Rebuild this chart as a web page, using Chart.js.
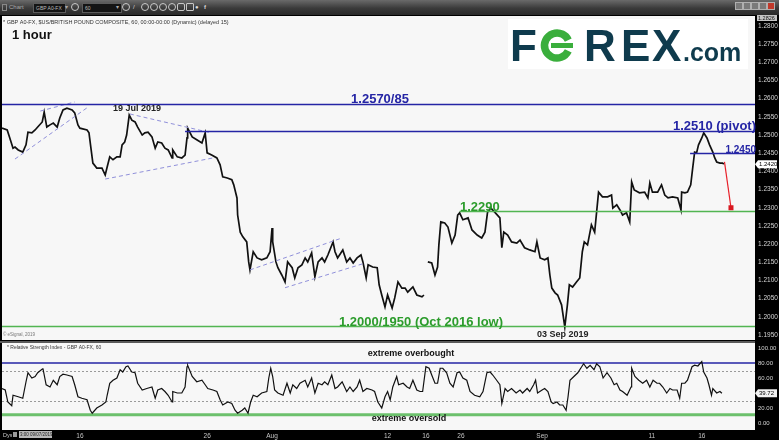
<!DOCTYPE html>
<html>
<head>
<meta charset="utf-8">
<script src="https://cdn.jsdelivr.net/npm/chart.js@4.4.1/dist/chart.umd.min.js"></script>
<style>
  body { margin: 0; width: 779px; height: 440px; background: #2a2a2a; overflow: hidden; font-family: "Liberation Sans", Arial, sans-serif; }
  #toolbar { position: absolute; left: 0; top: 0; width: 779px; height: 15px; background: linear-gradient(#6a6a6a, #3a3a3a 55%, #2a2a2a); }
  .tt { position: absolute; top: 3px; font-size: 6px; line-height: 9px; color: #a8a8a8; white-space: nowrap; }
  .fld { position: absolute; top: 3px; height: 8px; background: #141414; border: 1px solid #5c5c5c; color: #bbb; font-size: 5px; line-height: 8px; padding-left: 2px; white-space: nowrap; overflow: hidden; }
  .circ { position: absolute; top: 3px; width: 6px; height: 6px; border: 1px solid #c8c8c8; border-radius: 50%; }
  .btn { position: absolute; top: 2px; width: 6px; height: 6px; background: #7a7a7a; border: 1px solid #b0b0b0; }
  canvas { position: absolute; left: 0; }
  #price { top: 15px; }
  #rsi { top: 341px; }
  .low { position: absolute; z-index: 2; white-space: nowrap; overflow: hidden; }
</style>
</head>
<body>
<div id="toolbar">
  <div class="btn" style="left:2px;top:4px;width:3px;height:5px;background:none;border-color:#888"></div>
  <span class="tt" style="left:9px">Chart</span>
  <div class="fld" style="left:33px;width:29px">GBP A0-FX</div>
  <span class="tt" style="left:65px">&#9662;</span>
  <div class="circ" style="left:71px"></div>
  <div class="fld" style="left:82px;width:36px">60</div>
  <span class="tt" style="left:116px">&#9662;</span>
  <div class="circ" style="left:122px"></div>
  <span class="tt" style="left:133px;color:#ddd">/</span>
  <div class="circ" style="left:141px"></div>
  <div class="circ" style="left:150px"></div>
  <div class="circ" style="left:159px"></div>
  <div class="circ" style="left:168px"></div>
  <div class="circ" style="left:177px;border-radius:2px"></div>
  <div class="circ" style="left:186px;border-radius:1px"></div>
  <span class="tt" style="left:195px;color:#ddd">&#9679;</span>
  <span class="tt" style="left:204px;color:#ddd;font-weight:bold">f</span>
  <div class="btn" style="left:735px"></div>
  <div class="btn" style="left:743px"></div>
  <div class="btn" style="left:751px"></div>
  <div class="btn" style="left:759px"></div>
  <div class="btn" style="left:767px;background:#c0392b"></div>
</div>

<canvas id="price" width="779" height="326"></canvas>
<canvas id="rsi" width="779" height="99"></canvas>

<span class="low" style="left:3px;top:432px;font-size:5.5px;line-height:6px;color:#ccc">Dys</span>
<div class="low" style="left:13px;top:432px;width:4px;height:5px;background:#9a9a9a"></div>
<div class="low" style="left:19px;top:431px;width:32px;height:7px;background:#b8b8b8;font-size:4.5px;line-height:7px;color:#222;padding-left:1px">3:00 09/07/2019</div>

<script>
// hourly bar number since 9 Jul 2019 and GBP/USD price
const priceBars = [
  0, 8, 12, 17, 20, 25, 32, 37, 40, 46,
  51, 55, 62, 65, 69, 74, 79, 85, 89, 94,
  100, 108, 112, 117, 120, 131, 134, 137, 140, 146,
  154, 159, 162, 166, 171, 177, 182, 185, 189, 192,
  196, 200, 205, 209, 216, 220, 225, 231, 236, 240,
  246, 251, 256, 262, 263, 270, 277, 282, 285, 286,
  293, 300, 308, 313, 316, 323, 331, 336, 340, 347,
  354, 357, 362, 363, 367, 371, 377, 380, 382, 387,
  393, 400, 408, 413, 416, 417, 422, 425, 431, 436,
  440, 447, 451, 456, 462, 467, 471, 477, 482, 487,
  493, 497, 502, 510, 513, 517, 525, 531, 536, 541,
  547, 553, 556, 561, 564, 571, 578, 581, 585, 590,
  594, 601, 605, 610, 616, 621, 625, 633, 639, 647,
  650, 652, 656, 662, 667, 671, 673, 676, 682, 687,
  693, 698, 702, 705, 710, 718, 724, 732, 739, 744,
  748, 753, 759, 767, 770, 773, 779, 785, 793, 798,
  805, 813, 821, 824, 829, 836, 841, 844, 847, 852,
  856, 862, 867, 871, 874, 879, 885, 890, 894, 897,
  902, 908, 913, 916, 919, 925, 933, 939, 941, 947,
  952, 956, 962, 967, 970, 974, 982, 990, 995, 998,
  1002, 1010, 1016, 1021, 1026, 1033, 1041, 1046, 1047, 1052,
  1056, 1061, 1064, 1067, 1070, 1073, 1078, 1081, 1086, 1090,
  1095, 1098, 1101, 1106, 1110, 1112
];
const priceValues = [
  1.2519, 1.2514, 1.2492, 1.2464, 1.2467, 1.2459, 1.2453, 1.2473, 1.2508, 1.2506,
  1.2514, 1.2522, 1.2536, 1.2563, 1.2522, 1.2528, 1.2533, 1.2522, 1.2547, 1.2569,
  1.2574, 1.2569, 1.2561, 1.2528, 1.2519, 1.2514, 1.2506, 1.2464, 1.2423, 1.2409,
  1.2409, 1.2390, 1.2412, 1.2440, 1.2432, 1.2440, 1.2440, 1.2473, 1.2481, 1.2500,
  1.2555, 1.2541, 1.2536, 1.2522, 1.2500, 1.2506, 1.2508, 1.2495, 1.2464, 1.2481,
  1.2478, 1.2464, 1.2459, 1.2437, 1.2459, 1.2440, 1.2437, 1.2445, 1.2492, 1.2519,
  1.2495, 1.2487, 1.2478, 1.2506, 1.2451, 1.2445, 1.2437, 1.2418, 1.2385, 1.2382,
  1.2377, 1.2363, 1.2327, 1.2280, 1.2233, 1.2220, 1.2206, 1.2151, 1.2129, 1.2179,
  1.2162, 1.2157, 1.2162, 1.2179, 1.2244, 1.2206, 1.2151, 1.2135, 1.2115, 1.2096,
  1.2151, 1.2135, 1.2107, 1.2135, 1.2143, 1.2162, 1.2151, 1.2176, 1.2110, 1.2151,
  1.2162, 1.2151, 1.2170, 1.2206, 1.2179, 1.2162, 1.2184, 1.2151, 1.2162, 1.2148,
  1.2162, 1.2170, 1.2151, 1.2107, 1.2143, 1.2137, 1.2135, 1.2088, 1.2060, 1.2027,
  1.2060, 1.2024, 1.2052, 1.2096, 1.2079, 1.2079, 1.2068, 1.2082, 1.2060, 1.2055,
  1.2060, null, 1.2151, 1.2148, 1.2115, 1.2137, 1.2198, 1.2261, 1.2258, 1.2247,
  1.2203, 1.2225, 1.2280, 1.2286, 1.2267, 1.2272, 1.2239, 1.2225, 1.2217, 1.2233,
  1.2288, 1.2299, 1.2288, 1.2272, 1.2190, 1.2233, 1.2225, 1.2206, 1.2203, 1.2211,
  1.2190, 1.2184, 1.2179, 1.2206, 1.2162, 1.2157, 1.2162, 1.2115, 1.2079, 1.2066,
  1.2060, 1.2033, 1.1972, 1.2033, 1.2088, 1.2082, 1.2096, 1.2107, 1.2179, 1.2206,
  1.2198, 1.2253, 1.2233, 1.2288, 1.2343, 1.2330, 1.2330, 1.2335, 1.2299, 1.2308,
  1.2294, 1.2280, 1.2286, 1.2261, 1.2371, 1.2349, 1.2341, 1.2343, 1.2327, 1.2368,
  1.2343, 1.2343, 1.2363, 1.2335, 1.2327, 1.2330, 1.2327, 1.2294, 1.2343, 1.2341,
  1.2343, 1.2363, 1.2409, 1.2453, 1.2451, 1.2473, 1.2492, 1.2506, 1.2492, 1.2473,
  1.2453, 1.2437, 1.2426, 1.2423, 1.2423, 1.2420
];

// RSI(14) on the same hourly bars
const rsiBars = [
  0, 5, 9, 15, 17, 25, 32, 37, 40, 46,
  51, 55, 62, 63, 68, 74, 79, 85, 89, 94,
  100, 108, 112, 117, 123, 131, 136, 139, 146, 154,
  160, 162, 166, 171, 177, 182, 186, 191, 194, 200,
  205, 209, 216, 223, 231, 236, 240, 246, 251, 256,
  262, 263, 270, 277, 282, 285, 286, 293, 300, 308,
  313, 317, 325, 331, 336, 340, 348, 354, 359, 363,
  370, 374, 379, 383, 387, 393, 400, 408, 411, 414,
  417, 420, 425, 433, 439, 444, 448, 454, 459, 467,
  471, 477, 482, 487, 493, 497, 502, 508, 513, 517,
  524, 531, 536, 541, 547, 551, 556, 562, 570, 574,
  579, 585, 590, 594, 598, 602, 608, 611, 618, 624,
  628, 633, 639, 644, 648, 653, 658, 662, 667, 671,
  675, 679, 685, 690, 695, 701, 705, 710, 716, 721,
  728, 736, 741, 747, 752, 756, 762, 767, 770, 775,
  779, 785, 792, 798, 802, 809, 813, 819, 822, 825,
  832, 836, 841, 846, 849, 855, 859, 864, 869, 872,
  875, 881, 887, 893, 896, 901, 906, 912, 916, 921,
  926, 932, 938, 943, 947, 952, 956, 963, 969, 970,
  975, 981, 987, 993, 998, 1003, 1009, 1013, 1018, 1024,
  1029, 1033, 1040, 1044, 1047, 1052, 1056, 1063, 1067, 1072,
  1078, 1081, 1086, 1089, 1093, 1095, 1101, 1106, 1109
];
const rsiValues = [
  46, 44, 28, 23, 37, 35, 33, 55, 67, 60,
  62, 67, 72, 73, 51, 48, 57, 51, 62, 65,
  64, 62, 51, 35, 33, 31, 17, 13, 20, 24,
  28, 37, 53, 57, 60, 71, 68, 75, 76, 68,
  67, 53, 44, 46, 48, 33, 44, 46, 42, 37,
  28, 42, 40, 40, 48, 75, 77, 62, 55, 57,
  51, 46, 44, 42, 31, 24, 28, 26, 17, 13,
  17, 20, 13, 28, 37, 35, 40, 42, 60, 73,
  62, 44, 40, 37, 53, 40, 51, 46, 53, 57,
  48, 60, 40, 53, 51, 55, 51, 64, 46, 48,
  55, 42, 48, 42, 48, 57, 42, 46, 44, 42,
  28, 20, 35, 42, 31, 48, 62, 51, 53, 48,
  46, 57, 44, 42, 42, 75, 73, 64, 53, 53,
  73, 73, 67, 53, 48, 67, 68, 60, 57, 42,
  37, 35, 42, 67, 68, 64, 57, 51, 26, 46,
  42, 46, 40, 44, 40, 46, 42, 51, 57, 40,
  44, 46, 42, 28, 26, 28, 24, 24, 17, 35,
  57, 62, 67, 75, 79, 73, 77, 71, 79, 75,
  60, 67, 60, 51, 53, 44, 42, 37, 48, 73,
  62, 57, 53, 57, 48, 57, 53, 53, 48, 40,
  46, 44, 44, 33, 53, 53, 57, 75, 77, 76,
  82, 68, 60, 51, 37, 46, 40, 42, 39.72
];

const tickBars = [120, 316, 416, 594, 653, 707, 832, 1001, 1078];
const tickLabels = ['16', '26', 'Aug', '12', '16', '26', 'Sep', '11', '16'];

// support / resistance levels and where they start
const levelValues = [1.2585, 1.2510, 1.2450, 1.2290, 1.1975];
const levelStarts = [0, 282, 1060, 705, 0];
const levelTexts = ['1.2570/85', '1.2510 (pivot)', '1.2450', '1.2290', '1.2000/1950 (Oct 2016 low)'];

// dashed trend lines: [bar, price, bar, price]
const trendLines = [
  [59, 1.2566, 112, 1.2591],
  [20, 1.2434, 131, 1.2575],
  [197, 1.2558, 320, 1.2507],
  [159, 1.2379, 325, 1.2437],
  [382, 1.2129, 524, 1.2217],
  [436, 1.2080, 556, 1.2146]
];
const arrowFrom = [1113, 1.2426];
const arrowTo = [1123, 1.2300];

const lastPrice = 1.2420;
const topPrice = 1.2826;
const rsiLast = 39.72;
const rsiOverbought = 80;
const rsiOversold = 11;
const rsiGuides = [70, 30];

Chart.defaults.font.family = '"Liberation Sans", Arial, sans-serif';

const FONT = '"Liberation Sans", Arial, sans-serif';

const bgPlugin = {
  id: 'panelBg',
  beforeDraw(chart, args, opts) {
    const { ctx, chartArea: a, width, height } = chart;
    ctx.save();
    ctx.fillStyle = '#000';
    ctx.fillRect(0, 0, width, height);
    if (opts.sep) {
      ctx.fillStyle = opts.sep;
      ctx.fillRect(0, 0, a.right, a.top);
    }
    ctx.fillStyle = '#f7f7f7';
    ctx.fillRect(a.left, a.top, a.right - a.left, a.bottom - a.top);
    ctx.restore();
  }
};

function text(ctx, str, x, y, font, color, align) {
  ctx.font = font;
  ctx.fillStyle = color;
  ctx.textAlign = align || 'left';
  ctx.textBaseline = 'alphabetic';
  ctx.fillText(str, x, y);
}

function axisBox(ctx, a, y, str, fill) {
  ctx.fillStyle = fill;
  ctx.beginPath();
  ctx.moveTo(a.right, y);
  ctx.lineTo(a.right + 3, y - 4);
  ctx.lineTo(a.right + 22, y - 4);
  ctx.lineTo(a.right + 22, y + 4);
  ctx.lineTo(a.right + 3, y + 4);
  ctx.closePath();
  ctx.fill();
  ctx.font = '6px ' + FONT;
  ctx.fillStyle = '#000';
  ctx.textAlign = 'left';
  ctx.textBaseline = 'middle';
  ctx.fillText(str, a.right + 4, y + 0.5);
}

function noScalePadding(s, w) {
  s.width = w;
  s.paddingTop = 0;
  s.paddingBottom = 0;
}

const priceAnnotations = {
  id: 'priceAnnotations',
  afterDatasetsDraw(chart) {
    const { ctx, chartArea: a, scales: { x, y } } = chart;
    const px = v => x.getPixelForValue(v);
    const py = v => y.getPixelForValue(v);
    const blue = '#2525a5';
    const green = '#52b552';
    const greenText = '#2c9c2c';
    ctx.save();

    // dashed trend lines
    ctx.strokeStyle = '#9090da';
    ctx.lineWidth = 1;
    ctx.setLineDash([4, 3]);
    trendLines.forEach(t => {
      ctx.beginPath();
      ctx.moveTo(px(t[0]), py(t[1]));
      ctx.lineTo(px(t[2]), py(t[3]));
      ctx.stroke();
    });
    ctx.setLineDash([]);

    // horizontal levels
    levelValues.forEach((v, i) => {
      ctx.strokeStyle = i < 3 ? blue : green;
      ctx.lineWidth = i < 3 ? 1.3 : 1.4;
      ctx.beginPath();
      ctx.moveTo(Math.max(a.left, px(levelStarts[i])), Math.round(py(v)) + 0.5);
      ctx.lineTo(a.right, Math.round(py(v)) + 0.5);
      ctx.stroke();
    });

    // red target arrow
    ctx.strokeStyle = '#e8202a';
    ctx.lineWidth = 1.2;
    ctx.beginPath();
    ctx.moveTo(px(arrowFrom[0]), py(arrowFrom[1]));
    ctx.lineTo(px(arrowTo[0]), py(arrowTo[1]));
    ctx.stroke();
    ctx.fillStyle = '#d81820';
    ctx.fillRect(px(arrowTo[0]) - 2.5, py(arrowTo[1]) - 2.5, 5, 5);

    // level labels
    text(ctx, levelTexts[0], 380, py(levelValues[0]) - 1, 'bold 13px ' + FONT, blue, 'center');
    text(ctx, levelTexts[1], a.right + 1, py(levelValues[1]) - 1, 'bold 13px ' + FONT, blue, 'right');
    text(ctx, levelTexts[2], a.right + 1, py(levelValues[2]), 'bold 10px ' + FONT, blue, 'right');
    text(ctx, levelTexts[3], 460, py(levelValues[3]), 'bold 13px ' + FONT, greenText, 'left');
    text(ctx, levelTexts[4], 339, py(levelValues[4]), 'bold 13px ' + FONT, greenText, 'left');

    text(ctx, '19 Jul 2019', 113, 96, 'bold 9px ' + FONT, '#222', 'left');
    text(ctx, '03 Sep 2019', 537, 322, 'bold 9px ' + FONT, '#222', 'left');

    // header, title, watermark
    text(ctx, '* GBP A0-FX, $US/BRITISH POUND COMPOSITE, 60, 00:00-00:00 (Dynamic) (delayed 15)', 3, 9, '5.5px ' + FONT, '#333', 'left');
    text(ctx, '1 hour', 12, 24, 'bold 13px ' + FONT, '#111', 'left');
    text(ctx, '\u00a9 eSignal, 2019', 3, 321, '4.5px ' + FONT, '#777', 'left');

    // FOREX.com logo
    ctx.fillStyle = '#ffffff';
    ctx.fillRect(508, 4, 240, 50);
    const navy = '#0f3b4d';
    text(ctx, 'F', 510, 46, 'bold 44px ' + FONT, navy, 'left');
    text(ctx, 'R', 584, 46, 'bold 44px ' + FONT, navy, 'left');
    text(ctx, 'E', 621, 46, 'bold 44px ' + FONT, navy, 'left');
    text(ctx, 'X', 652, 46, 'bold 44px ' + FONT, navy, 'left');
    text(ctx, '.com', 683, 46, 'bold 25px ' + FONT, navy, 'left');
    ctx.strokeStyle = '#3aae3c';
    ctx.lineWidth = 7.5;
    ctx.beginPath();
    ctx.arc(557, 30.5, 12.5, 0.45, Math.PI * 2 - 0.45);
    ctx.stroke();
    ctx.lineWidth = 5;
    ctx.beginPath();
    ctx.moveTo(551, 30.5);
    ctx.lineTo(573, 30.5);
    ctx.stroke();

    ctx.restore();
  },
  afterDraw(chart) {
    const { ctx, chartArea: a, scales: { y } } = chart;
    ctx.save();
    axisBox(ctx, a, y.getPixelForValue(lastPrice), lastPrice.toFixed(4), '#ffffff');
    ctx.fillStyle = '#c4c4c4';
    ctx.fillRect(a.right + 2, 0, 20, 6);
    ctx.font = '5.5px ' + FONT;
    ctx.fillStyle = '#111';
    ctx.textAlign = 'left';
    ctx.textBaseline = 'middle';
    ctx.fillText(topPrice.toFixed(4), a.right + 3, 3);
    ctx.restore();
  }
};

const rsiAnnotations = {
  id: 'rsiAnnotations',
  beforeDatasetsDraw(chart) {
    const { ctx, chartArea: a, scales: { y } } = chart;
    ctx.save();
    ctx.strokeStyle = '#9a9a9a';
    ctx.lineWidth = 1;
    ctx.setLineDash([2, 2]);
    rsiGuides.forEach(v => {
      const yy = Math.round(y.getPixelForValue(v)) + 0.5;
      ctx.beginPath();
      ctx.moveTo(a.left, yy);
      ctx.lineTo(a.right, yy);
      ctx.stroke();
    });
    ctx.setLineDash([]);
    ctx.strokeStyle = '#2525a5';
    ctx.lineWidth = 1.5;
    ctx.beginPath();
    ctx.moveTo(a.left, y.getPixelForValue(rsiOverbought));
    ctx.lineTo(a.right, y.getPixelForValue(rsiOverbought));
    ctx.stroke();
    ctx.strokeStyle = '#6cc06c';
    ctx.lineWidth = 3;
    ctx.beginPath();
    ctx.moveTo(a.left, y.getPixelForValue(rsiOversold));
    ctx.lineTo(a.right, y.getPixelForValue(rsiOversold));
    ctx.stroke();
    ctx.restore();
  },
  afterDatasetsDraw(chart) {
    const { ctx } = chart;
    ctx.save();
    text(ctx, '* Relative Strength Index - GBP A0-FX, 60', 7, 8, '5px ' + FONT, '#333', 'left');
    text(ctx, 'extreme overbought', 411, 15, 'bold 9px ' + FONT, '#111', 'center');
    text(ctx, 'extreme oversold', 409, 80, 'bold 9px ' + FONT, '#111', 'center');
    ctx.restore();
  },
  afterDraw(chart) {
    const { ctx, chartArea: a, scales: { y } } = chart;
    ctx.save();
    axisBox(ctx, a, y.getPixelForValue(rsiLast), rsiLast.toFixed(2), '#f0f0f0');
    ctx.restore();
  }
};

new Chart(document.getElementById('price'), {
  type: 'line',
  data: {
    datasets: [{
      data: priceBars.map((b, i) => ({ x: b, y: priceValues[i] })),
      borderColor: '#111',
      borderWidth: 1.7,
      pointRadius: 0,
      tension: 0,
      spanGaps: false
    }]
  },
  options: {
    responsive: false,
    animation: false,
    layout: { padding: { left: 2, top: 1, right: 0, bottom: 1 } },
    plugins: { legend: { display: false }, tooltip: { enabled: false }, panelBg: {} },
    scales: {
      x: { type: 'linear', min: 0, max: 1160, display: false },
      y: {
        position: 'right',
        min: 1.19362,
        max: 1.28275,
        grid: { display: false, drawTicks: false },
        border: { display: false },
        ticks: {
          stepSize: 0.005,
          includeBounds: false,
          autoSkip: false,
          padding: 3,
          color: '#d4d4d4',
          font: { size: 6.5 },
          callback: v => Number(v).toFixed(4)
        },
        afterFit(s) { noScalePadding(s, 24); }
      }
    }
  },
  plugins: [bgPlugin, priceAnnotations]
});

new Chart(document.getElementById('rsi'), {
  type: 'line',
  data: {
    datasets: [{
      data: rsiBars.map((b, i) => ({ x: b, y: rsiValues[i] })),
      borderColor: '#111',
      borderWidth: 1.2,
      pointRadius: 0,
      tension: 0
    }]
  },
  options: {
    responsive: false,
    animation: false,
    layout: { padding: { left: 2, top: 2, right: 0, bottom: 0 } },
    plugins: { legend: { display: false }, tooltip: { enabled: false }, panelBg: { sep: '#5a5a5a' } },
    scales: {
      x: {
        type: 'linear',
        min: 0,
        max: 1160,
        grid: { display: false, drawTicks: false },
        border: { display: false },
        afterBuildTicks(s) { s.ticks = tickBars.map(v => ({ value: v })); },
        ticks: {
          autoSkip: false,
          maxRotation: 0,
          padding: 2,
          color: '#c4c4c4',
          font: { size: 6.5 },
          callback: v => tickLabels[tickBars.indexOf(v)]
        },
        afterFit(s) {
          s.height = 10;
          s.paddingLeft = 0;
          s.paddingRight = 0;
        }
      },
      y: {
        position: 'right',
        min: -9.33,
        max: 106.67,
        grid: { display: false, drawTicks: false },
        border: { display: false },
        ticks: {
          stepSize: 20,
          includeBounds: false,
          autoSkip: false,
          padding: 3,
          color: '#d4d4d4',
          font: { size: 6 },
          callback: v => v === 40 ? '' : Number(v).toFixed(2)
        },
        afterFit(s) { noScalePadding(s, 24); }
      }
    }
  },
  plugins: [bgPlugin, rsiAnnotations]
});
</script>
</body>
</html>
